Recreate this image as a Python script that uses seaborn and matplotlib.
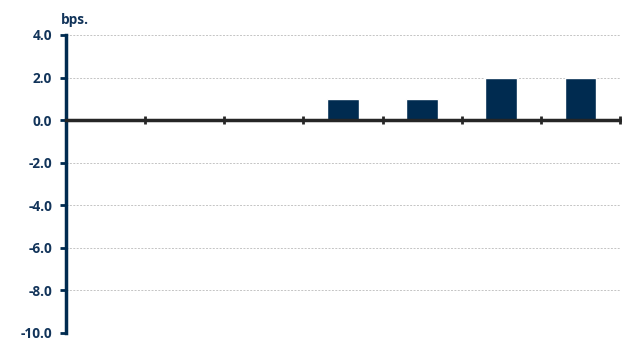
import matplotlib
matplotlib.use("Agg")
import matplotlib.pyplot as plt
import seaborn as sns
import pandas as pd

# Change per period, in basis points
periods = [0, 1, 2, 3, 4, 5, 6]
values = [0.0, 0.0, 0.0, 1.0, 1.0, 2.0, 2.0]
y_ticks = [4.0, 2.0, 0.0, -2.0, -4.0, -6.0, -8.0, -10.0]

navy = "#002b50"
text_col = "#12345a"

sns.set_theme(style="white")
plt.rcParams["font.family"] = ["Open Sans", "DejaVu Sans"]

df = pd.DataFrame({"period": periods, "bps": values})

fig = plt.figure(figsize=(6.22, 3.39), dpi=100)
ax = fig.add_axes([66 / 622, 1 - 333 / 339, (620 - 66) / 622, (333 - 35) / 339])

sns.barplot(data=df, x="period", y="bps", order=periods, color=navy,
            saturation=1, width=0.4, ax=ax, zorder=3)

ax.set_xlim(-0.5, 6.5)
ax.set_ylim(-10, 4)
ax.set_yticks(y_ticks)
ax.set_yticklabels([f"{v:.1f}" for v in y_ticks], fontsize=9.8, fontweight="bold",
                   color=text_col)
ax.yaxis.grid(True, color="#c4c4c4", linestyle=(0, (2, 1.5)), linewidth=0.7, zorder=0)
ax.set_axisbelow(True)

ax.set_xticks([0.5, 1.5, 2.5, 3.5, 4.5, 5.5, 6.5])
ax.set_xticklabels([])
ax.set_xlabel("")
ax.set_ylabel("")

for side in ("top", "right"):
    ax.spines[side].set_visible(False)
ax.spines["left"].set_color(navy)
ax.spines["left"].set_linewidth(2.5)
ax.spines["bottom"].set_position(("data", 0))
ax.spines["bottom"].set_color("#262626")
ax.spines["bottom"].set_linewidth(2.5)
ax.spines["bottom"].set_zorder(4)

ax.tick_params(axis="y", direction="out", length=4, width=2, color=navy, pad=6, left=True)
ax.tick_params(axis="x", direction="inout", length=6, width=2, color="#262626", bottom=True)

fig.text(61 / 622, 1 - 20 / 339, "bps.", fontsize=9.8, fontweight="bold",
         color=text_col, va="center", ha="left")

fig.savefig("out.png", dpi=100, facecolor="white")
